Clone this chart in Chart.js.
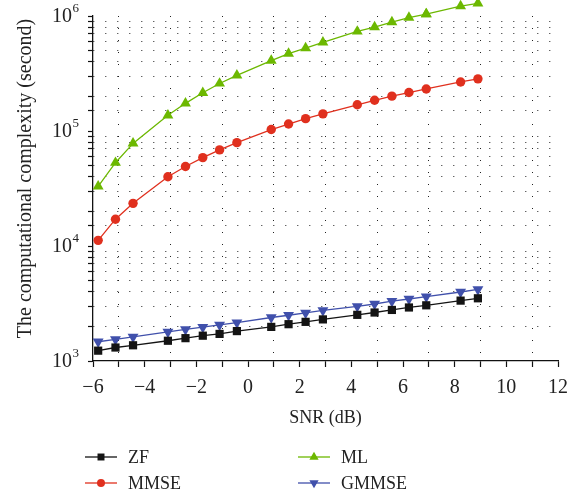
<!DOCTYPE html>
<html>
<head>
<meta charset="utf-8">
<script src="https://cdn.jsdelivr.net/npm/chart.js@4/dist/chart.umd.min.js"></script>
<style>
  html, body { margin: 0; padding: 0; background: #fff; }
  #wrap { width: 580px; height: 495px; }
</style>
</head>
<body>
<div id="wrap"><canvas id="c" width="580" height="495"></canvas></div>
<script>
// SNR operating points (dB)
const snr = [-5.8, -5.13, -4.45, -3.1, -2.42, -1.75, -1.1, -0.43, 0.9, 1.57, 2.23, 2.9,
             4.23, 4.9, 5.57, 6.23, 6.9, 8.23, 8.9];

// Computational complexity (second) for each detector
const zf    = [1230, 1310, 1370, 1500, 1580, 1660, 1720, 1820, 1980, 2090, 2190, 2300,
               2520, 2640, 2780, 2920, 3050, 3350, 3510];
const mmse  = [11200, 17100, 23500, 40000, 49100, 58700, 68500, 79200, 103000, 115000,
               128000, 141000, 169000, 185000, 201000, 216000, 232000, 267000, 284000];
const ml    = [33000, 53000, 78000, 137000, 174000, 215000, 259000, 305000, 409000, 471000,
               526000, 590000, 734000, 800000, 884000, 970000, 1040000, 1220000, 1290000];
const gmmse = [1470, 1540, 1620, 1790, 1880, 1970, 2060, 2160, 2390, 2500, 2620, 2750,
               2990, 3130, 3310, 3460, 3630, 3980, 4200];

const seriesNames = ['ZF', 'MMSE', 'ML', 'GMMSE'];
const xTicks = [-6, -4, -2, 0, 2, 4, 6, 8, 10, 12];
const yDecades = [1e3, 1e4, 1e5, 1e6];
const yTitle = 'The computational complexity (second)';

const FONT = '"Liberation Serif", "DejaVu Serif", serif';
const INK = '#222';

function pts(ys) { return snr.map((x, i) => ({ x: x, y: ys[i] })); }

function series(label, ys, color, style, radius, rotation) {
  return {
    label: label,
    data: pts(ys),
    borderColor: color,
    backgroundColor: color,
    borderWidth: 1.3,
    pointStyle: style,
    pointRadius: radius,
    pointHoverRadius: radius,
    pointRotation: rotation || 0,
    pointBorderColor: color,
    pointBackgroundColor: color,
    pointBorderWidth: 0,
    tension: 0,
    clip: false
  };
}

function isDecade(v) {
  const e = Math.log10(v);
  return Math.abs(e - Math.round(e)) < 1e-6;
}

// Markers that sit above the top of the plot area are still drawn
const overflowPoints = {
  id: 'overflowPoints',
  afterDatasetsDraw(chart) {
    const a = chart.chartArea;
    const full = { left: 0, top: 0, right: chart.width, bottom: chart.height };
    chart.data.datasets.forEach((ds, i) => {
      const meta = chart.getDatasetMeta(i);
      meta.data.forEach((el) => {
        if (el.y < a.top - 0.5 || el.y > a.bottom + 0.5) el.draw(chart.ctx, full);
      });
    });
  }
};

// Power-of-ten labels and the rotated title of the value axis
const yAxisText = {
  id: 'yAxisText',
  afterDraw(chart) {
    const ctx = chart.ctx;
    const y = chart.scales.y;
    const a = chart.chartArea;
    ctx.save();
    ctx.fillStyle = INK;
    ctx.textBaseline = 'alphabetic';
    yDecades.forEach((v) => {
      const py = y.getPixelForValue(v);
      const exp = String(Math.round(Math.log10(v)));
      ctx.font = '13px ' + FONT;
      const ew = ctx.measureText(exp).width;
      const right = a.left - 14;
      ctx.textAlign = 'right';
      ctx.fillText(exp, right, py - 4);
      ctx.font = '20px ' + FONT;
      ctx.fillText('10', right - ew - 0.5, py + 5.5);
    });
    ctx.font = '20px ' + FONT;
    ctx.textAlign = 'center';
    ctx.textBaseline = 'middle';
    ctx.translate(26, (a.top + a.bottom) / 2 - 10);
    ctx.rotate(-Math.PI / 2);
    ctx.fillText(yTitle, 0, 0);
    ctx.restore();
  }
};

// Two-column legend with a short line through each marker
const legendGrid = {
  id: 'legendGrid',
  afterDraw(chart) {
    const ctx = chart.ctx;
    const cols = [85, 298];
    const rows = [457, 483];
    const order = [0, 2, 1, 3]; // ZF, ML / MMSE, GMMSE
    ctx.save();
    ctx.font = '18px ' + FONT;
    ctx.textBaseline = 'middle';
    order.forEach((di, k) => {
      const ds = chart.data.datasets[di];
      const x0 = cols[k % 2];
      const y0 = rows[Math.floor(k / 2)];
      ctx.strokeStyle = ds.borderColor;
      ctx.lineWidth = 1.3;
      ctx.beginPath();
      ctx.moveTo(x0, y0);
      ctx.lineTo(x0 + 32, y0);
      ctx.stroke();
      ctx.fillStyle = ds.pointBackgroundColor;
      Chart.helpers.drawPoint(ctx, {
        pointStyle: ds.pointStyle,
        rotation: ds.pointRotation,
        radius: ds.pointRadius * 0.85,
        borderWidth: 0
      }, x0 + 16, y0);
      ctx.fillStyle = INK;
      ctx.fillText(ds.label, x0 + 43, y0 + 1);
    });
    ctx.restore();
  }
};

new Chart(document.getElementById('c'), {
  type: 'line',
  data: {
    datasets: [
      series(seriesNames[0], zf,    '#141414', 'rect',     5.8),
      series(seriesNames[1], mmse,  '#e0301e', 'circle',   4.7),
      series(seriesNames[2], ml,    '#6cb800', 'triangle', 6.3),
      series(seriesNames[3], gmmse, '#4050ab', 'triangle', 6.3, 180)
    ]
  },
  options: {
    responsive: false,
    animation: false,
    events: [],
    layout: { padding: { top: 15, right: 22, bottom: 66, left: 0 } },
    plugins: { legend: { display: false }, tooltip: { enabled: false } },
    scales: {
      x: {
        type: 'linear',
        min: -6,
        max: 12,
        afterFit(s) { s.height = 68; },
        afterBuildTicks(s) {
          const t = [];
          for (let v = -6; v <= 12; v++) t.push({ value: v });
          s.ticks = t;
        },
        border: { display: true, color: '#111', width: 1.3, dash: [1, 11] },
        grid: {
          drawOnChartArea: true,
          drawTicks: true,
          tickLength: 6,
          tickColor: '#111',
          tickWidth: 1.2,
          color: (c) => (c.tick && Math.abs(c.tick.value % 2) === 1) ? '#222' : 'rgba(0,0,0,0)',
          lineWidth: 1
        },
        ticks: {
          autoSkip: false,
          maxRotation: 0,
          padding: 9,
          color: INK,
          font: { family: FONT, size: 20 },
          callback: (v) => xTicks.includes(v) ? String(v).replace('-', '−') : ''
        },
        title: {
          display: true,
          text: 'SNR (dB)',
          color: INK,
          font: { family: FONT, size: 18 },
          padding: { top: 0, bottom: 0 }
        }
      },
      y: {
        type: 'logarithmic',
        min: yDecades[0],
        max: yDecades[yDecades.length - 1],
        afterFit(s) { s.width = 93; },
        border: { display: true, color: '#111', width: 1.3, dash: [1, 11] },
        grid: {
          drawOnChartArea: true,
          drawTicks: true,
          tickLength: 5,
          tickColor: '#111',
          tickWidth: 1.2,
          color: (c) => (!c.tick || isDecade(c.tick.value)) ? 'rgba(0,0,0,0)' : '#222',
          lineWidth: 1
        },
        ticks: {
          autoSkip: false,
          padding: 4,
          color: INK,
          font: { family: FONT, size: 20 },
          callback: () => ''
        },
        title: { display: false }
      }
    }
  },
  plugins: [overflowPoints, yAxisText, legendGrid]
});
</script>
</body>
</html>
